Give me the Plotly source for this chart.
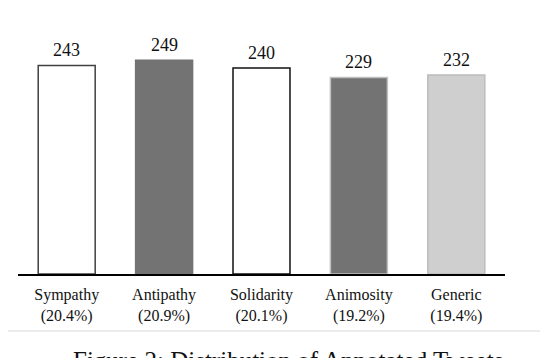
import plotly.graph_objects as go

# Chart data
categories = ["Sympathy", "Antipathy", "Solidarity", "Animosity", "Generic"]
shares = ["20.4%", "20.9%", "20.1%", "19.2%", "19.4%"]
counts = [243, 249, 240, 229, 232]

tick_labels = [f"{c}<br>({s})" for c, s in zip(categories, shares)]

fill_colors = ["#ffffff", "#737373", "#ffffff", "#737373", "#d0cfd0"]
edge_colors = ["#404040", "#737373", "#111111", "#c0c0c0", "#bcbcbc"]

serif = "Liberation Serif"

fig = go.Figure(go.Bar(
    x=categories,
    y=counts,
    marker=dict(color=fill_colors, line=dict(color=edge_colors, width=1.5)),
    cliponaxis=False,
))

# the page has an 8px body margin, so the figure is 540x350
fig.update_layout(
    width=540, height=350,
    margin=dict(l=10, r=43, t=12, b=84),
    paper_bgcolor="white", plot_bgcolor="white",
    bargap=0.415,
    showlegend=False,
    font=dict(family=serif, color="#111111"),
)
fig.update_xaxes(
    tickvals=categories, ticktext=tick_labels,
    tickfont=dict(family=serif, size=16, color="#111111"),
    ticklabelstandoff=5,
    showline=True, linecolor="black", linewidth=1.5,
    ticks="", showgrid=False, zeroline=False,
)
fig.update_yaxes(range=[0, 296], visible=False)

# value labels above the bars
for cat, val in zip(categories, counts):
    fig.add_annotation(x=cat, y=val, text=str(val), showarrow=False,
                       yanchor="bottom", yshift=3,
                       font=dict(family=serif, size=18, color="#111111"))

# light frame around the chart
fig.add_shape(type="rect", xref="paper", yref="paper",
              x0=-0.0329, x1=1.0821, y0=-0.2244, y1=1.0748,
              line=dict(color="#d9d9d9", width=1), layer="below")

# caption (cut off by the picture edge)
fig.add_annotation(text="Figure 2: Distribution of Annotated Tweets",
                   xref="paper", yref="paper", x=0.554, y=-0.2795,
                   xanchor="center", yanchor="top", showarrow=False,
                   font=dict(family=serif, size=25, color="#111111"))

fig.write_html("out.html")
